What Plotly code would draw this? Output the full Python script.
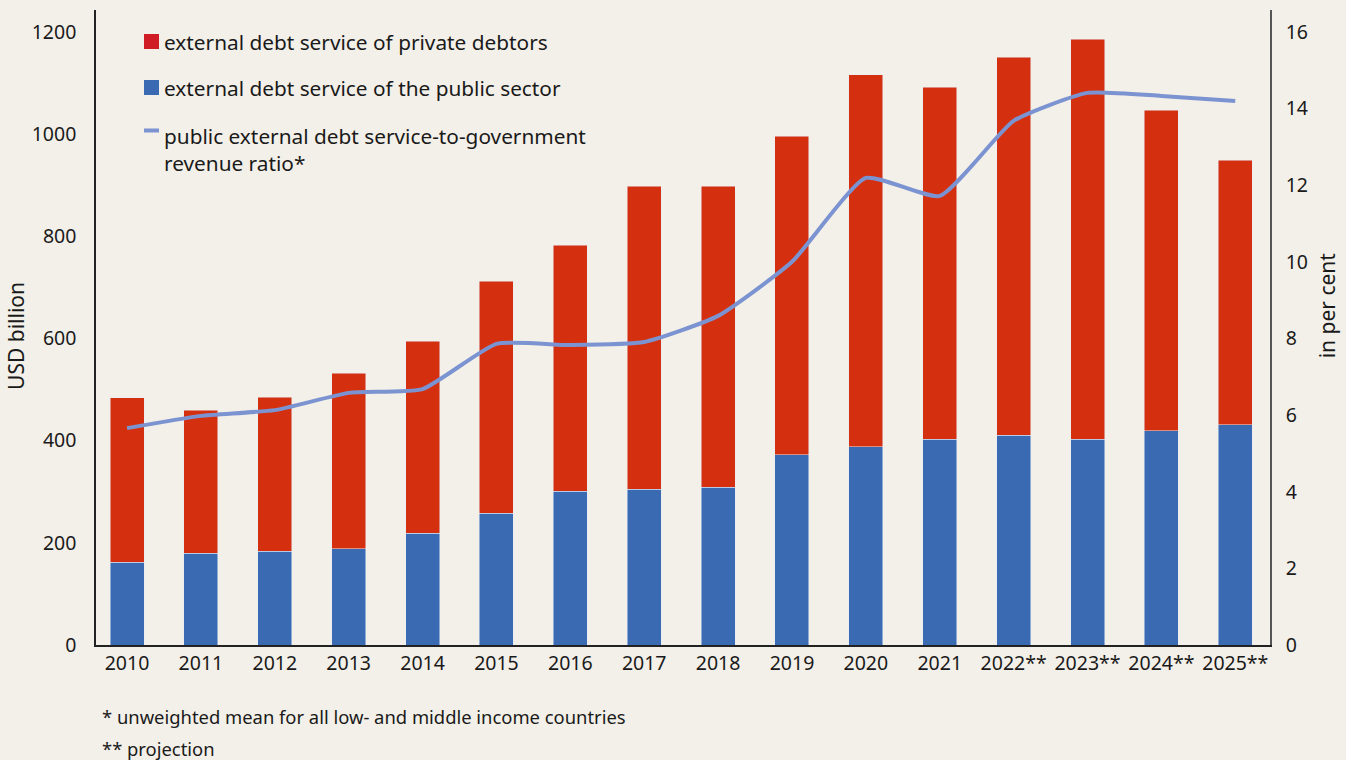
import plotly.graph_objects as go

years = ["2010", "2011", "2012", "2013", "2014", "2015", "2016", "2017",
         "2018", "2019", "2020", "2021", "2022**", "2023**", "2024**", "2025**"]
total_service = [484, 460, 485, 532, 595, 712, 783, 898,
                 898, 996, 1116, 1092, 1151, 1186, 1047, 949]
public_service = [162, 180, 184, 188, 219, 258, 301, 305,
                  309, 372, 388, 403, 411, 403, 419, 431]
revenue_ratio = [5.66, 5.98, 6.13, 6.58, 6.68, 7.86, 7.83, 7.91,
                 8.59, 10.0, 12.19, 11.72, 13.68, 14.41, 14.33, 14.2]
private_service = [t - p for t, p in zip(total_service, public_service)]

left_ticks = [0, 200, 400, 600, 800, 1000, 1200]
right_ticks = [0, 2, 4, 6, 8, 10, 12, 14, 16]

BG = "#f3f0e9"
RED = "#d4300f"
BLUE = "#3a6bb2"
LINE = "#7b93d0"
FONT = "Noto Sans"

x = list(range(len(years)))

fig = go.Figure()
fig.add_bar(x=x, y=public_service, marker_color=BLUE, width=0.46,
            name="external debt service of the public sector")
fig.add_bar(x=x, y=private_service, marker_color=RED, width=0.46,
            name="external debt service of private debtors")
fig.add_scatter(x=x, y=revenue_ratio, yaxis="y2", mode="lines",
                line=dict(color=LINE, width=4, shape="spline", smoothing=0.5),
                name="public external debt service-to-government revenue ratio*")

ymax = 1243
fig.update_layout(
    width=1346, height=760,
    paper_bgcolor=BG, plot_bgcolor=BG,
    barmode="stack", showlegend=False,
    margin=dict(l=96, r=76, t=10, b=115),
    font=dict(family=FONT, size=19, color="#1a1a1a"),
    xaxis=dict(tickvals=x, ticktext=years, range=[-0.42, 15.47],
               showline=True, linecolor="#222", linewidth=1.5,
               showgrid=False, ticks="", zeroline=False,
               tickfont=dict(size=19.5)),
    yaxis=dict(range=[0, ymax], tickvals=left_ticks, showgrid=False,
               showline=True, linecolor="#222", linewidth=1.5,
               zeroline=False, ticks="", ticklabelstandoff=14,
               tickfont=dict(size=19.5)),
    yaxis2=dict(range=[0, 16 * ymax / 1200], tickvals=right_ticks,
                overlaying="y", side="right", showgrid=False,
                showline=True, linecolor="#555", linewidth=1.5,
                zeroline=False, ticks="", ticklabelstandoff=10,
                tickfont=dict(size=19.5)),
)

# axis titles
fig.add_annotation(text="USD billion", xref="paper", yref="paper",
                   x=-0.068, y=0.487, textangle=-90, showarrow=False,
                   font=dict(size=21), xanchor="center", yanchor="middle")
fig.add_annotation(text="in per cent", xref="paper", yref="paper",
                   x=1.0486, y=0.535, textangle=-90, showarrow=False,
                   font=dict(size=21), xanchor="center", yanchor="middle")

# legend drawn by hand
def px_x(px):
    return (px - 96) / (1346 - 96 - 76)

def px_y(py):
    return (645 - py) / (645 - 10)

LEG = 20.8
legend_items = [
    ("#d01c24", 34, 49, "external debt service of private debtors", 42),
    (BLUE, 80, 95, "external debt service of the public sector", 88),
]
for col, y0, y1, label, ty in legend_items:
    fig.add_shape(type="rect", xref="paper", yref="paper",
                  x0=px_x(144), x1=px_x(159), y0=px_y(y1), y1=px_y(y0),
                  fillcolor=col, line_width=0)
    fig.add_annotation(text=label, xref="paper", yref="paper",
                       x=px_x(162), y=px_y(ty), xanchor="left", yanchor="middle",
                       showarrow=False, font=dict(size=LEG))
fig.add_shape(type="line", xref="paper", yref="paper",
              x0=px_x(144), x1=px_x(159), y0=px_y(130.5), y1=px_y(130.5),
              line=dict(color=LINE, width=4))
fig.add_annotation(text="public external debt service-to-government<br>revenue ratio*",
                   xref="paper", yref="paper", x=px_x(162), y=px_y(120),
                   xanchor="left", yanchor="top", align="left", showarrow=False,
                   font=dict(size=LEG))

# footnotes
fig.add_annotation(text="* unweighted mean for all low- and middle income countries",
                   xref="paper", yref="paper", x=px_x(100), y=px_y(717),
                   xanchor="left", yanchor="middle", showarrow=False,
                   font=dict(size=18.4))
fig.add_annotation(text="** projection",
                   xref="paper", yref="paper", x=px_x(100), y=px_y(749),
                   xanchor="left", yanchor="middle", showarrow=False,
                   font=dict(size=18.4))

fig.write_html("out.html")
